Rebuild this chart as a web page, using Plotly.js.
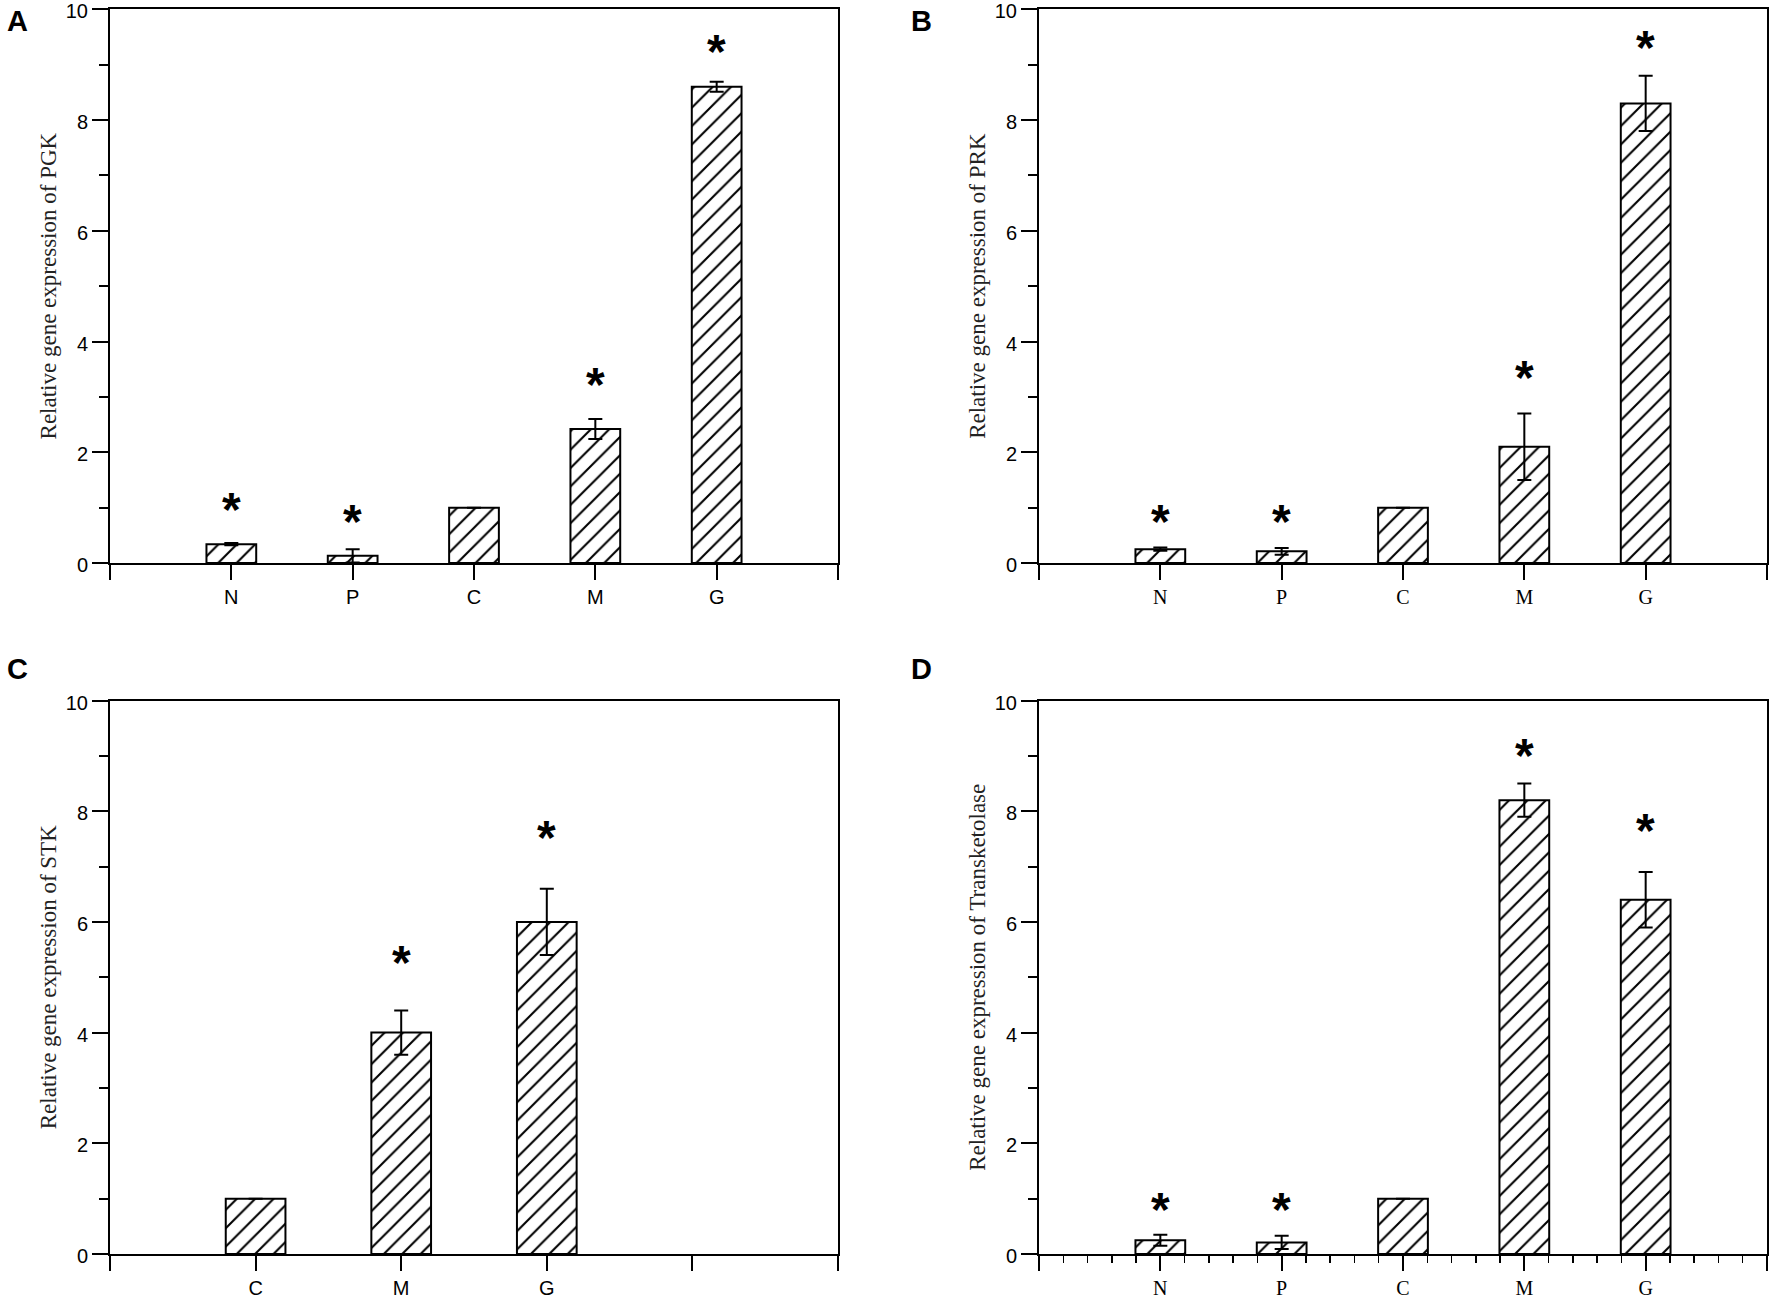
<!DOCTYPE html>
<html>
<head>
<meta charset="utf-8">
<script src="https://cdn.plot.ly/plotly-3.0.1.min.js"></script>
<style>
html, body { margin:0; padding:0; background:#fff; }
#myDiv { width:1772px; height:1299px; }
</style>
</head>
<body>
<div id="myDiv"></div>
<script>
// group labels
var groupsAll = ["N", "P", "C", "M", "G"];
var groupsSTK = ["C", "M", "G"];

// A: PGK
var pgkMean = [0.34, 0.13, 1.0, 2.42, 8.6];
var pgkErr  = [0.02, 0.12, null, 0.18, 0.09];
var pgkStar = [1.08, 0.86, null, 3.33, 9.35];

// B: PRK
var prkMean = [0.25, 0.21, 1.0, 2.1, 8.3];
var prkErr  = [0.03, 0.06, null, 0.6, 0.5];
var prkStar = [0.86, 0.86, null, 3.46, 9.42];

// C: STK
var stkMean = [1.0, 4.0, 6.0];
var stkErr  = [null, 0.4, 0.6];
var stkStar = [null, 5.37, 7.64];

// D: Transketolase
var tktMean = [0.25, 0.21, 1.0, 8.2, 6.4];
var tktErr  = [0.1, 0.12, null, 0.3, 0.5];
var tktStar = [0.92, 0.92, null, 9.12, 7.76];

var yTitles = [
  "Relative gene expression of PGK",
  "Relative gene expression of PRK",
  "Relative gene expression of STK",
  "Relative gene expression of Transketolase"
];
var panelLetters = ["A", "B", "C", "D"];

var W = 1772, H = 1299;
var sansFont = "Liberation Sans, Arial, Helvetica, sans-serif";
var serifFont = "Liberation Serif, Times New Roman, serif";

/**************************************************************/
function makeBarTrace(means, errs, xa, ya) {
  var xs = [];
  for (var i = 0; i < means.length; i++) xs.push(i + 1);
  return {
    type: "bar",
    x: xs,
    y: means,
    width: 0.41,
    xaxis: xa,
    yaxis: ya,
    marker: {
      color: "#fff",
      line: { color: "#000", width: 2 },
      pattern: { shape: "/", fgcolor: "#000", bgcolor: "#fff", size: 13, solidity: 0.16 }
    },
    error_y: { type: "data", array: errs, visible: true, color: "#000", thickness: 2, width: 7 },
    hoverinfo: "x+y",
    showlegend: false
  };
}

function makeXAxis(dom, anchor, nslots, groups, fontFam, withMinor) {
  var vals = [], txt = [];
  for (var i = 0; i <= nslots; i++) {
    vals.push(i);
    txt.push(i >= 1 && i <= groups.length ? groups[i - 1] : "");
  }
  var ax = {
    domain: dom, anchor: anchor, range: [0, nslots],
    tickmode: "array", tickvals: vals, ticktext: txt,
    ticks: "outside", ticklen: 15, tickwidth: 2, tickcolor: "#000",
    ticklabelstandoff: 0, ticklabeloverflow: "allow",
    showline: true, linewidth: 2, linecolor: "#000", mirror: true,
    showgrid: false, zeroline: false, fixedrange: true,
    tickfont: { family: fontFam, size: 20, color: "#000" }
  };
  if (withMinor) {
    ax.minor = { ticks: "outside", tickmode: "linear", tick0: 0, dtick: 0.2,
                 ticklen: 7, tickwidth: 1.5, tickcolor: "#000", showgrid: false };
  }
  return ax;
}

function makeYAxis(dom, anchor, title) {
  return {
    domain: dom, anchor: anchor, range: [0, 10],
    tickmode: "linear", tick0: 0, dtick: 2,
    ticks: "outside", ticklen: 16, tickwidth: 2, tickcolor: "#000",
    ticklabeloverflow: "allow", ticklabelshift: 2,
    minor: { ticks: "outside", tick0: 0, dtick: 1, ticklen: 9, tickwidth: 2, tickcolor: "#000", showgrid: false },
    showline: true, linewidth: 2, linecolor: "#000", mirror: true,
    showgrid: false, zeroline: false, fixedrange: true,
    tickfont: { family: sansFont, size: 20, color: "#000" },
    title: { text: title, standoff: 3, font: { family: serifFont, size: 23, color: "#222" } }
  };
}

function starNotes(levels, xref, yref) {
  var out = [];
  for (var i = 0; i < levels.length; i++) {
    if (levels[i] == null) continue;
    out.push({
      xref: xref, yref: yref, x: i + 1, y: levels[i],
      text: "<b>*</b>", showarrow: false,
      xanchor: "center", yanchor: "middle", yshift: -6,
      font: { family: sansFont, size: 48, color: "#000" }
    });
  }
  return out;
}

// pixel boxes of the four frames
function px2dom(x0, x1, y0, y1) {
  return { x: [x0 / W, x1 / W], y: [1 - y1 / H, 1 - y0 / H] };
}
var dA = px2dom(110, 838, 9.3, 563);
var dB = px2dom(1039, 1767, 9.3, 563);
var dC = px2dom(110, 838, 700.5, 1254);
var dD = px2dom(1039, 1767, 700.5, 1254);

var data = [
  makeBarTrace(pgkMean, pgkErr, "x", "y"),
  makeBarTrace(prkMean, prkErr, "x2", "y2"),
  makeBarTrace(stkMean, stkErr, "x3", "y3"),
  makeBarTrace(tktMean, tktErr, "x4", "y4")
];

var notes = []
  .concat(starNotes(pgkStar, "x", "y"))
  .concat(starNotes(prkStar, "x2", "y2"))
  .concat(starNotes(stkStar, "x3", "y3"))
  .concat(starNotes(tktStar, "x4", "y4"));

var letterPos = [[5, 20.5], [909, 20.5], [5, 668.5], [909, 668.5]];
for (var k = 0; k < panelLetters.length; k++) {
  notes.push({
    xref: "paper", yref: "paper",
    x: letterPos[k][0] / W, y: 1 - letterPos[k][1] / H,
    xanchor: "left", yanchor: "middle", showarrow: false,
    text: "<b>" + panelLetters[k] + "</b>",
    font: { family: sansFont, size: 29, color: "#000" }
  });
}

var layout = {
  width: W, height: H,
  margin: { l: 0, r: 0, t: 0, b: 0 },
  paper_bgcolor: "#fff", plot_bgcolor: "#fff",
  bargap: 0,
  showlegend: false,
  xaxis:  makeXAxis(dA.x, "y",  6, groupsAll, sansFont, false),
  yaxis:  makeYAxis(dA.y, "x",  yTitles[0]),
  xaxis2: makeXAxis(dB.x, "y2", 6, groupsAll, serifFont, false),
  yaxis2: makeYAxis(dB.y, "x2", yTitles[1]),
  xaxis3: makeXAxis(dC.x, "y3", 5, groupsSTK, sansFont, false),
  yaxis3: makeYAxis(dC.y, "x3", yTitles[2]),
  xaxis4: makeXAxis(dD.x, "y4", 6, groupsAll, serifFont, true),
  yaxis4: makeYAxis(dD.y, "x4", yTitles[3]),
  annotations: notes
};

Plotly.newPlot("myDiv", data, layout, { displayModeBar: false, staticPlot: true });
</script>
</body>
</html>
